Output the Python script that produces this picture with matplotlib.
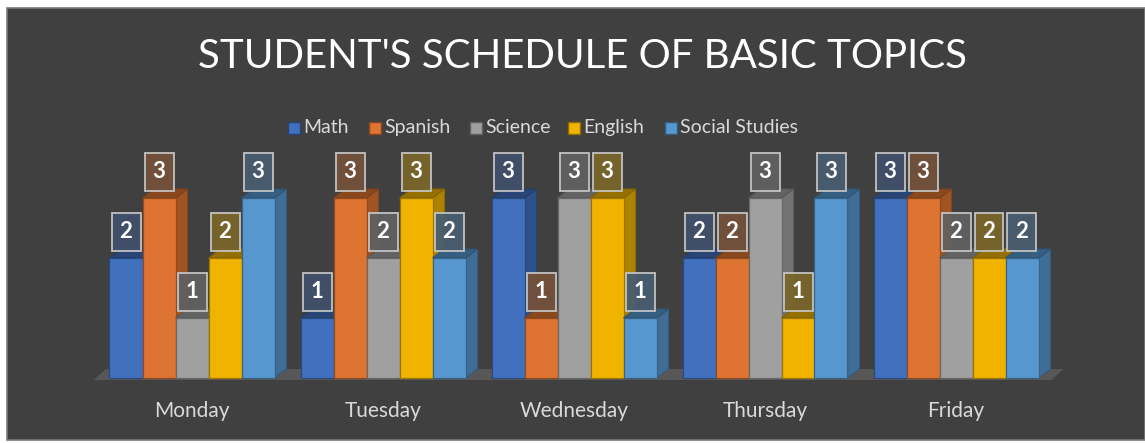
import matplotlib
matplotlib.use("Agg")
import matplotlib.pyplot as plt
from matplotlib.patches import Polygon, Rectangle
from matplotlib.colors import to_rgb
import numpy as np

# ---------------- data ----------------
title = "STUDENT'S SCHEDULE OF BASIC TOPICS"
days = ["Monday", "Tuesday", "Wednesday", "Thursday", "Friday"]
subjects = ["Math", "Spanish", "Science", "English", "Social Studies"]
math = [2, 1, 3, 2, 3]
spanish = [3, 3, 1, 2, 3]
science = [1, 2, 3, 3, 2]
english = [2, 3, 3, 1, 2]
social = [3, 2, 1, 3, 2]
series = [math, spanish, science, english, social]
colors = ["#4170BF", "#DE7432", "#A0A0A0", "#F0B400", "#5797D0"]

# ---------------- layout ----------------
W, H = 1145, 443
fig = plt.figure(figsize=(W / 100, H / 100), dpi=100)
fig.patch.set_facecolor("white")
BG = "#404040"
fig.patches.append(Rectangle((7 / W, 3 / H), 1 - 7 / W, (H - 11) / H,
                             transform=fig.transFigure, facecolor=BG,
                             edgecolor="#7a7a7a", linewidth=1.2, zorder=-10))

FONT = ["Lato", "DejaVu Sans"]
TXT = "#d9d9d9"

ax = fig.add_axes([0, 0, 1, 1])
ax.set_facecolor("none")
ax.patch.set_alpha(0)
ax.axis("off")
ax.set_zorder(1)
# pixel scales: group spacing 191 px, 60 px per unit value
GX0, GSP = 192.0, 191.0
BASE, UNIT = 378.0, 60.0
ax.set_xlim((0 - GX0) / GSP, (W - GX0) / GSP)
ax.set_ylim((BASE - H) / UNIT, BASE / UNIT)

PX = 1 / GSP
PY = 1 / UNIT
BW = 33 * PX          # bar width
DX, DY = 12 * PX, 9 * PY  # depth offsets


def shade(c, f):
    r, g, b = to_rgb(c)
    return (r * f, g * f, b * f)


def mix(c, bg, a):
    c1, c2 = np.array(to_rgb(c)), np.array(to_rgb(bg))
    return tuple(c1 * a + c2 * (1 - a))


# floor
fl, fr = -0.515, 4.50
ax.add_patch(Polygon([(fl, -2 * PY), (fr, -2 * PY), (fr + DX, DY), (fl + DX, DY)],
                     closed=True, facecolor="#575757", edgecolor="none", zorder=1))

x = np.arange(len(days))
nser = len(series)
for j, (vals, col) in enumerate(zip(series, colors)):
    xs = x + (j - (nser - 1) / 2) * BW
    z = 10 + 3 * j
    for xi, v in zip(xs, vals):
        r = xi + BW / 2
        l = xi - BW / 2
        ax.add_patch(Polygon([(r, 0), (r + DX, DY), (r + DX, v + DY), (r, v)], closed=True,
                             facecolor=shade(col, 0.72), edgecolor=shade(col, 0.6),
                             linewidth=0.8, zorder=z))
        ax.add_patch(Polygon([(l, v), (l + DX, v + DY), (r + DX, v + DY), (r, v)], closed=True,
                             facecolor=shade(col, 0.62), edgecolor=shade(col, 0.55),
                             linewidth=0.8, zorder=z + 1))
    ax.bar(xs, vals, width=BW, bottom=0, color=col, edgecolor=shade(col, 0.65),
           linewidth=0.9, zorder=z + 2)
    # data labels
    for xi, v in zip(xs, vals):
        bw, bh = 29 * PX, 38 * PY
        y0 = v + 7 * PY
        ax.add_patch(Rectangle((xi - bw / 2, y0), bw, bh, facecolor=mix(col, BG, 0.33),
                               edgecolor="#c8c8c8", linewidth=1.3, alpha=0.95, zorder=60))
        ax.text(xi, y0 + bh / 2, str(v), ha="center", va="center", color="white",
                fontsize=16, fontweight="bold", family=FONT, zorder=61)

# category labels
for xi, d in zip(x, days):
    ax.text(xi, (BASE - 411) / UNIT, d, ha="center", va="center", color=TXT,
            fontsize=15, family=FONT, zorder=5)

# title
fig.text(582 / W, 1 - 57 / H, title, ha="center", va="center", color="white",
         fontsize=29, family=FONT)

# legend
leg_y = 1 - 128 / H
mk_x = [288, 369, 470, 568, 665]
for mx, name, col in zip(mk_x, subjects, colors):
    fig.patches.append(Rectangle((mx / W, leg_y - 6 / H), 12 / W, 12 / H,
                                 transform=fig.transFigure, facecolor=col,
                                 edgecolor=shade(col, 0.6), linewidth=1.0, zorder=5))
    fig.text((mx + 15) / W, leg_y, name, ha="left", va="center", color=TXT,
             fontsize=14, family=FONT)

fig.savefig("out.png", dpi=100, facecolor=fig.get_facecolor())
